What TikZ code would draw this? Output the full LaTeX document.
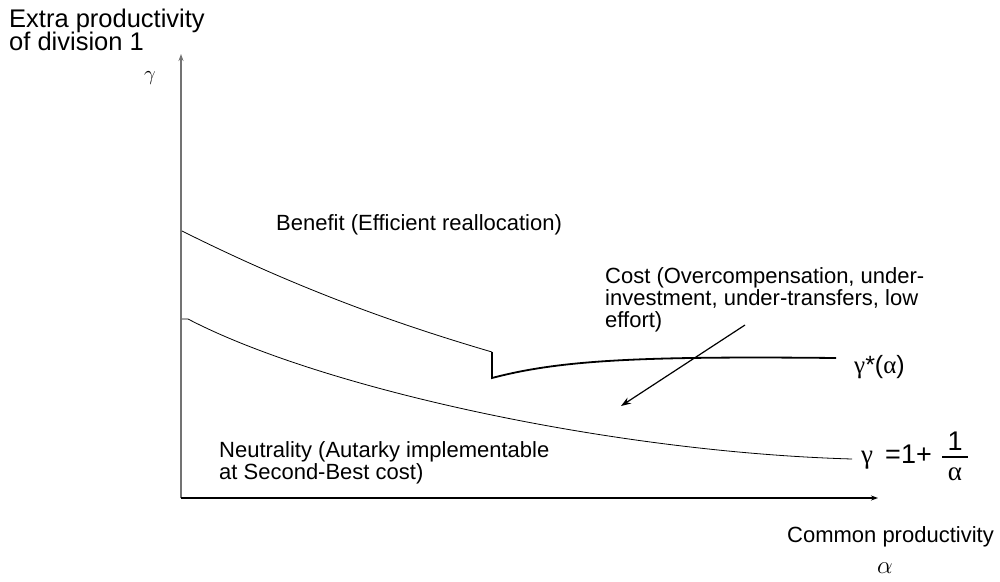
\documentclass[tikz,border=0pt]{standalone}
\usepackage{fontspec}
\setmainfont{Liberation Sans}
\newfontfamily\symfont{Liberation Serif}
\usetikzlibrary{arrows.meta}
\begin{document}
\begin{tikzpicture}[x=1pt,y=-1pt,
  lbl/.style={inner sep=0pt,anchor=base west,font=\fontsize{22}{22}\selectfont},
  biglbl/.style={inner sep=0pt,anchor=base west,font=\fontsize{25.5}{25}\selectfont},
  fml/.style={inner sep=0pt,anchor=base west,font=\fontsize{27}{27}\selectfont},
  thincurve/.style={line width=0.8pt},
  thickcurve/.style={line width=1.8pt},
  axisline/.style={line width=1.1pt,-{Stealth[length=7pt,width=5pt]}},
  costarrow/.style={line width=1.2pt,-{Stealth[length=10pt,width=7pt]}}]
\useasboundingbox (0,0) rectangle (1000,581);
% axes
\coordinate (O) at (181,498);
\coordinate (ytop) at (181,54);
\coordinate (xend) at (878,498);
\draw[axisline,draw=black!55,fill=black!55] (O) -- (ytop);
\draw[axisline] (O) -- (xend);
% axis labels
\node[biglbl] (ex1) at (9,27) {Extra productivity};
\node[biglbl] (ex2) at (9,50) {of division 1};
\node[inner sep=0pt,font=\fontsize{22}{22}\selectfont] (gy) at (150,78) {$\gamma$};
\node[lbl,anchor=base east] (cp) at (994,542) {Common productivity};
\node[inner sep=0pt,font=\fontsize{23}{23}\selectfont] (ax) at (885,568) {$\alpha$};
% upper boundary (benefit)
\coordinate (u0) at (182,231);
\coordinate (u1) at (492,352);
\coordinate (u2) at (492,378);
\coordinate (u3) at (836,358);
\draw[thincurve] (u0) .. controls (300,290) and (400,325) .. (u1);
\draw[thickcurve] (u1) -- (u2) .. controls (560,360) and (640,356) .. (u3);
% lower curve 1+1/alpha
\coordinate (l0) at (182,319);
\coordinate (l1) at (188,319);
\coordinate (l2) at (852,459);
\draw[thincurve] (l0) -- (l1) .. controls (320,388) and (610,452) .. (l2);
% region labels
\node[lbl] (ben) at (276,230) {Benefit (Efficient reallocation)};
\node[lbl] (cost1) at (605,283) {Cost (Overcompensation, under-};
\node[lbl] (cost2) at (605,305) {investment, under-transfers, low};
\node[lbl] (cost3) at (605,327) {effort)};
\node[lbl] (neu1) at (219,457) {Neutrality (Autarky implementable};
\node[lbl] (neu2) at (219,479) {at Second-Best cost)};
% cost arrow
\coordinate (cs) at (745,325);
\coordinate (ce) at (621,406);
\draw[costarrow] (cs) -- (ce);
% curve labels
\node[inner sep=0pt,anchor=base west,font=\fontsize{25}{25}\selectfont] (gstar) at (854,373) {{\symfont γ}*({\symfont α})};
\node[fml] (gg) at (861,463) {\symfont γ};
\node[fml] (eq) at (885,463) {=};
\node[fml] (onep) at (901,463) {1+};
\coordinate (fb0) at (942,457);
\coordinate (fb1) at (968,457);
\draw[line width=1.4pt] (fb0) -- (fb1);
\node[fml,anchor=base] (num) at (955,450) {1};
\node[fml,anchor=base] (den) at (955,480) {\symfont α};
\end{tikzpicture}
\end{document}
